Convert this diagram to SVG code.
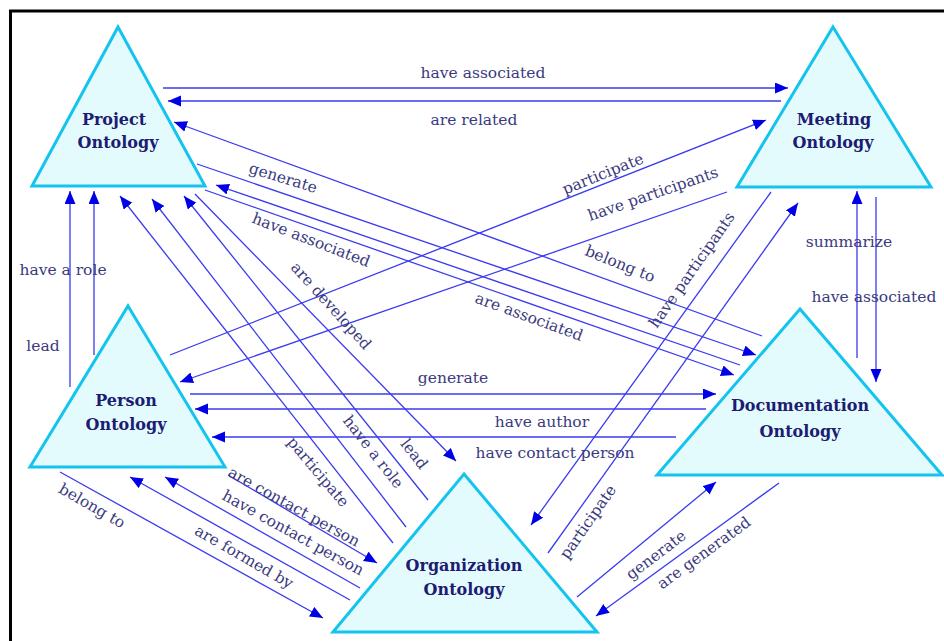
<svg xmlns="http://www.w3.org/2000/svg" width="944" height="641" viewBox="0 0 944 641">
<style>
.tri{fill:#e4fbfd;stroke:#14c4ee;stroke-width:3;stroke-linejoin:miter}
.nt{font-family:"DejaVu Serif","Liberation Serif",serif;font-weight:bold;font-size:16px;fill:#1c1c72;text-anchor:middle}
.c{stroke:#3a3af0;stroke-width:1.3;fill:none;marker-end:url(#ah)}
.lb{font-family:"DejaVu Serif","Liberation Serif",serif;font-size:15.5px;fill:#3a3a7e;text-anchor:middle}
</style>
<defs>
<marker id="ah" markerUnits="userSpaceOnUse" markerWidth="14" markerHeight="12" refX="13" refY="5.5" orient="auto">
<path d="M0,0 L13,5.5 L0,11 z" fill="#0000e6"/>
</marker>
</defs>
<rect x="0" y="0" width="944" height="641" fill="#ffffff"/>
<path d="M10.5,641 V11 H944" stroke="#000" stroke-width="3" fill="none"/>

<g id="connectors">
<line class="c" x1="163" y1="88" x2="788" y2="88"/>
<line class="c" x1="781" y1="101" x2="168" y2="101"/>
<line class="c" x1="762" y1="336" x2="174" y2="122"/>
<line class="c" x1="197" y1="164" x2="756" y2="355"/>
<line class="c" x1="205" y1="190" x2="734" y2="375"/>
<line class="c" x1="740" y1="365" x2="216" y2="185"/>
<line class="c" x1="195" y1="194" x2="456" y2="461"/>
<line class="c" x1="70" y1="387" x2="70" y2="191"/>
<line class="c" x1="94" y1="355" x2="94" y2="191"/>
<line class="c" x1="393" y1="543" x2="120" y2="196"/>
<line class="c" x1="406" y1="527" x2="152" y2="199"/>
<line class="c" x1="428" y1="500" x2="184" y2="196"/>
<line class="c" x1="170" y1="355" x2="766" y2="120"/>
<line class="c" x1="727" y1="192" x2="180" y2="382"/>
<line class="c" x1="190" y1="394" x2="716" y2="394"/>
<line class="c" x1="706" y1="409" x2="195" y2="409"/>
<line class="c" x1="676" y1="437" x2="212" y2="437"/>
<line class="c" x1="857" y1="358" x2="857" y2="191"/>
<line class="c" x1="876" y1="197" x2="876" y2="382"/>
<line class="c" x1="771" y1="192" x2="531" y2="525"/>
<line class="c" x1="548" y1="553" x2="798" y2="203"/>
<line class="c" x1="577" y1="597" x2="716" y2="482"/>
<line class="c" x1="779" y1="483" x2="596" y2="616"/>
<line class="c" x1="60" y1="472" x2="323" y2="618"/>
<line class="c" x1="350" y1="600" x2="130" y2="477"/>
<line class="c" x1="360" y1="588" x2="165" y2="477"/>
<line class="c" x1="228" y1="475" x2="377" y2="563"/>
</g>

<g id="labels">
<text class="lb" x="483" y="78">have associated</text>
<text class="lb" x="474" y="125">are related</text>
<text class="lb" transform="translate(283,178) rotate(17)" y="5">generate</text>
<text class="lb" transform="translate(311,240) rotate(21)" y="5">have associated</text>
<text class="lb" transform="translate(331,306) rotate(48)" y="5">are developed</text>
<text class="lb" transform="translate(620,264) rotate(22)" y="5">belong to</text>
<text class="lb" transform="translate(529,317) rotate(20)" y="5">are associated</text>
<text class="lb" transform="translate(603,174) rotate(-22)" y="5">participate</text>
<text class="lb" transform="translate(653,194) rotate(-19)" y="5">have participants</text>
<text class="lb" transform="translate(692,270) rotate(-55)" y="5">have participants</text>
<text class="lb" transform="translate(588,522) rotate(-55)" y="5">participate</text>
<text class="lb" x="849" y="247">summarize</text>
<text class="lb" x="874" y="302">have associated</text>
<text class="lb" x="63" y="275">have a role</text>
<text class="lb" x="43" y="351">lead</text>
<text class="lb" x="453" y="383">generate</text>
<text class="lb" x="542" y="427">have author</text>
<text class="lb" x="555" y="458">have contact person</text>
<text class="lb" transform="translate(318,472) rotate(50)" y="5">participate</text>
<text class="lb" transform="translate(373,452) rotate(52)" y="5">have a role</text>
<text class="lb" transform="translate(414,454) rotate(52)" y="5">lead</text>
<text class="lb" transform="translate(294,507) rotate(29)" y="5">are contact person</text>
<text class="lb" transform="translate(293,533) rotate(29)" y="5">have contact person</text>
<text class="lb" transform="translate(244,557) rotate(30)" y="5">are formed by</text>
<text class="lb" transform="translate(92,506) rotate(30)" y="5">belong to</text>
<text class="lb" transform="translate(656,555) rotate(-37)" y="5">generate</text>
<text class="lb" transform="translate(704,553) rotate(-36)" y="5">are generated</text>
</g>

<g id="project">
<polygon class="tri" points="118,27 205,186 32,186"/>
<text class="nt" x="114" y="125">Project</text>
<text class="nt" x="118" y="148">Ontology</text>
</g>
<g id="meeting">
<polygon class="tri" points="833,27 931,187 737,187"/>
<text class="nt" x="834" y="125">Meeting</text>
<text class="nt" x="833" y="148">Ontology</text>
</g>
<g id="person">
<polygon class="tri" points="128,306 225,467 30,467"/>
<text class="nt" x="126" y="406">Person</text>
<text class="nt" x="126" y="430">Ontology</text>
</g>
<g id="documentation">
<polygon class="tri" points="800,309 942,475 657,475"/>
<text class="nt" x="800" y="411">Documentation</text>
<text class="nt" x="800" y="437">Ontology</text>
</g>
<g id="organization">
<polygon class="tri" points="464,474 597,632 333,632"/>
<text class="nt" x="464" y="571">Organization</text>
<text class="nt" x="464" y="595">Ontology</text>
</g>
</svg>
